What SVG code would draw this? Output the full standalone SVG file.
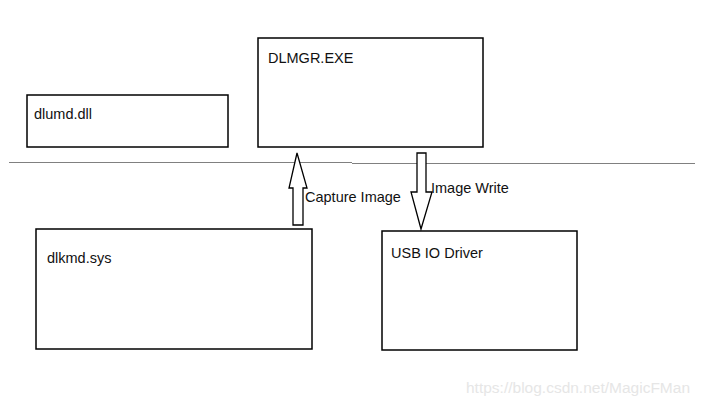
<svg xmlns="http://www.w3.org/2000/svg" width="702" height="408" viewBox="0 0 702 408">
<style>
.box{fill:#fff;stroke:#000;stroke-width:1.5}
.t{font-family:"Liberation Sans",Arial,sans-serif;font-size:14.5px;fill:#111}
.arr{fill:#fff;stroke:#000;stroke-width:1.3;stroke-linejoin:miter}
.sep{stroke:#808080;stroke-width:1.2;fill:none}
.wm{font-family:"Liberation Sans",Arial,sans-serif;font-size:15.5px;fill:#e6e6e6}
</style>
<rect width="702" height="408" fill="#fff"/>
<g id="separator">
<path class="sep" d="M9 162.5H352M352 163.5H695"/>
</g>
<g id="dlmgr"><rect class="box" x="258" y="38" width="225" height="109"/><text class="t" x="268" y="63">DLMGR.EXE</text></g>
<g id="dlumd"><rect class="box" x="27" y="95" width="201" height="52"/><text class="t" x="34" y="119">dlumd.dll</text></g>
<g id="dlkmd"><rect class="box" x="36" y="229" width="276" height="120"/><text class="t" x="47" y="263">dlkmd.sys</text></g>
<g id="usb"><rect class="box" x="382" y="231" width="195" height="119"/><text class="t" x="391" y="258">USB IO Driver</text></g>
<g id="connectors">
<polygon class="arr" points="297,153 307,188 303,188 303,225 293,225 293,188 289,188"/>
<text class="t" x="305" y="202">Capture Image</text>
<polygon class="arr" points="417,153 426,153 426,192 432,192 421,229 411,192 417,192"/>
<text class="t" x="431" y="193">Image Write</text>
</g>
<text class="wm" x="466" y="393">https://blog.csdn.net/MagicFMan</text>
</svg>
